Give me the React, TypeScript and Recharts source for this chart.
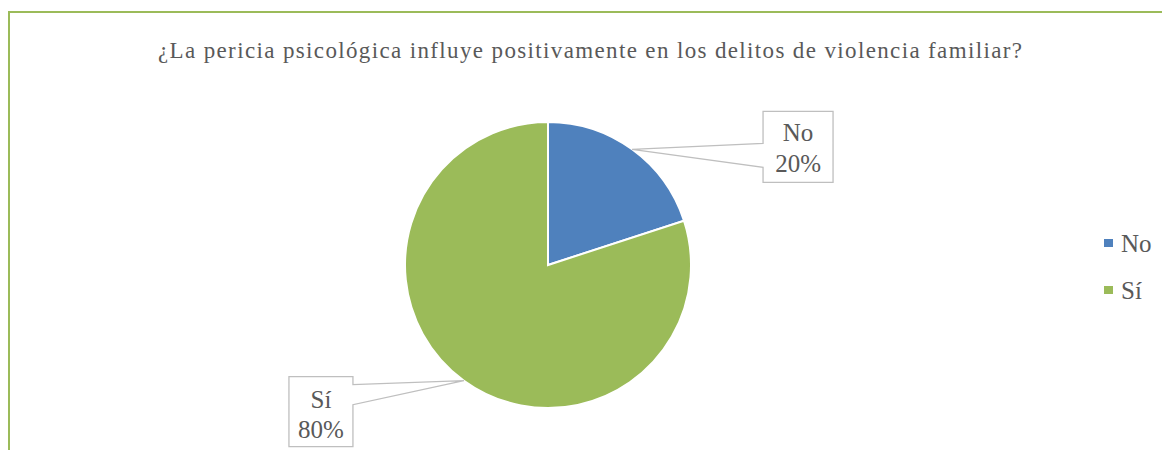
import React from 'react';
import { PieChart, Pie, Cell, Legend } from 'recharts';

const title = '¿La pericia psicológica influye positivamente en los delitos de violencia familiar?';
const categories = ['No', 'Sí'];
const values = [20, 80];
const colors = ['#4F81BD', '#9BBB59'];

const data = categories.map((name, i) => ({ name, value: values[i] }));

const FONT = '"Liberation Serif", "Noto Serif", "DejaVu Serif", Times, "Times New Roman", serif';
const TEXT = '#595959';
const RAD = Math.PI / 180;

// callout box layout per slice (relative to the anchor point on the arc)
const boxes = [
  { dx: 131, dy: -38, w: 70, h: 71, side: 'left', pa: -6, pb: 18, l1: 30, l2: 61 },
  { dx: -175, dy: -4, w: 64, h: 70, side: 'right', pa: 4, pb: 24, l1: 31, l2: 61 },
];

const renderLabel = (props: any) => {
  const { cx, cy, midAngle, outerRadius, index, name, percent } = props;
  const ax = cx + outerRadius * Math.cos(-midAngle * RAD);
  const ay = cy + outerRadius * Math.sin(-midAngle * RAD);
  const b = boxes[index];
  const x0 = ax + b.dx;
  const y0 = ay + b.dy;
  const x1 = x0 + b.w;
  const y1 = y0 + b.h;
  const pA = ay + b.pa;
  const pB = ay + b.pb;
  let d: string;
  if (b.side === 'left') {
    d = `M${x0},${y0} L${x1},${y0} L${x1},${y1} L${x0},${y1} L${x0},${pB} L${ax},${ay} L${x0},${pA} Z`;
  } else {
    d = `M${x0},${y0} L${x1},${y0} L${x1},${pA} L${ax},${ay} L${x1},${pB} L${x1},${y1} L${x0},${y1} Z`;
  }
  const tx = (x0 + x1) / 2;
  return (
    <g key={`lbl-${index}`}>
      <path d={d} fill="#fff" stroke="#BFBFBF" strokeWidth={1.3} />
      <text x={tx} y={y0 + b.l1} textAnchor="middle" style={{ fontFamily: FONT }} fontSize={25} fill={TEXT}>
        {name}
      </text>
      <text x={tx} y={y0 + b.l2} textAnchor="middle" style={{ fontFamily: FONT }} fontSize={25} fill={TEXT}>
        {`${Math.round(percent * 100)}%`}
      </text>
    </g>
  );
};

const renderLegend = (props: any) => {
  const { payload } = props;
  return (
    <svg width={70} height={90}>
      {(payload || []).map((p: any, i: number) => (
        <g key={i}>
          <rect x={4} y={11 + i * 47} width={9} height={8} fill={p.color} />
          <text x={21} y={24 + i * 47} style={{ fontFamily: FONT }} fontSize={25} fill={TEXT}>
            {p.value}
          </text>
        </g>
      ))}
    </svg>
  );
};

export default function App() {
  return (
    <div style={{ position: 'relative', width: 1162, height: 450, overflow: 'hidden', marginBottom: -8, fontFamily: FONT }}>
      <div
        style={{
          position: 'absolute',
          top: 3,
          left: 0,
          width: 1220,
          height: 600,
          border: '2px solid #9BBB59',
          boxSizing: 'border-box',
        }}
      />
      <svg width={1162} height={80} style={{ position: 'absolute', left: 0, top: 0 }}>
        <text
          x={150}
          y={50}
          textLength={864}
          lengthAdjust="spacing"
          style={{ fontFamily: FONT }}
          fontSize={23}
          fill={TEXT}
        >
          {title}
        </text>
      </svg>
      <div style={{ position: 'absolute', left: 0, top: 0 }}>
        <PieChart width={1162} height={450} margin={{ top: 0, right: 0, bottom: 0, left: 0 }}>
          <Pie
            data={data}
            dataKey="value"
            nameKey="name"
            cx={540}
            cy={257}
            outerRadius={143}
            startAngle={90}
            endAngle={-270}
            stroke="#fff"
            strokeWidth={2}
            isAnimationActive={false}
            label={renderLabel}
            labelLine={false}
          >
            {data.map((d, i) => (
              <Cell key={d.name} fill={colors[i]} />
            ))}
          </Pie>
          <Legend
            content={renderLegend}
            wrapperStyle={{ position: 'absolute', left: 1092, top: 220, width: 70, height: 90 }}
          />
        </PieChart>
      </div>
    </div>
  );
}
